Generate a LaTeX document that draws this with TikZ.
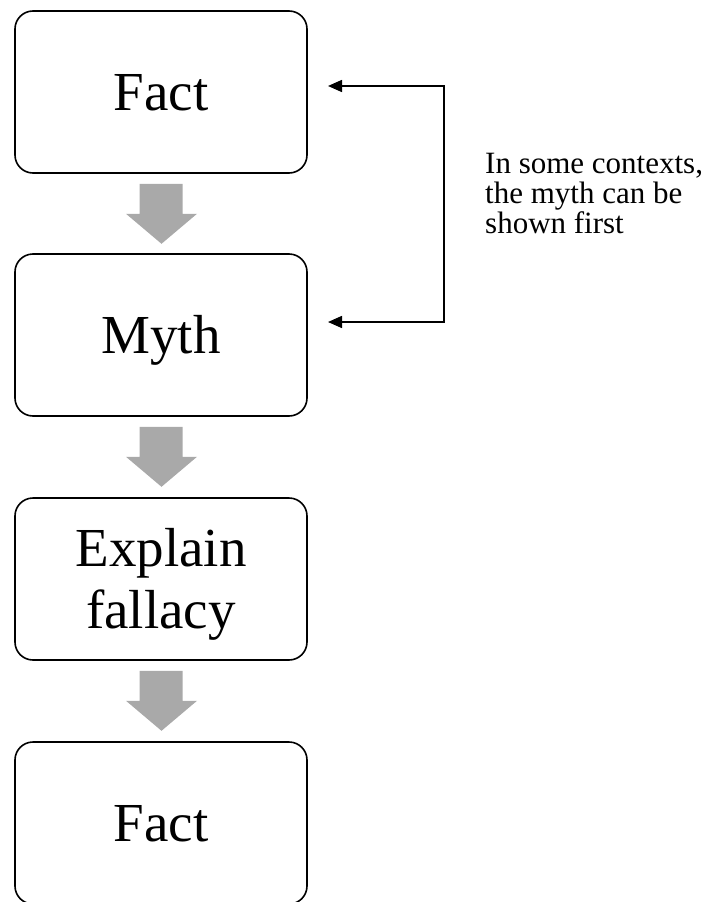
\documentclass[tikz,border=0pt]{standalone}
\usepackage{fontspec}
\setmainfont{Liberation Serif}
\usetikzlibrary{arrows.meta,calc}
\definecolor{arrowgray}{HTML}{A9A9A9}
\newcommand{\bxstrut}{\rule[-0.22em]{0pt}{1.11em}}
\begin{document}
\begin{tikzpicture}[x=1pt,y=-1pt,
  stepbox/.style={draw=black,line width=1.6pt,rounded corners=18pt,
    minimum width=292pt,minimum height=162pt,inner sep=0pt,align=center,
    font=\fontsize{55}{57}\selectfont},
  blockarrow/.style={fill=arrowgray,draw=none},
  linkline/.style={line width=1.6pt,{Triangle[length=14pt,width=12pt]}-{Triangle[length=14pt,width=12pt]}},
  note/.style={inner sep=0pt,anchor=north west,align=left,
    font=\fontsize{31}{30}\selectfont}]
\useasboundingbox (0,0) rectangle (713,902);
\node[stepbox] (b1) at (161,92)  {\bxstrut Fact};
\node[stepbox] (b2) at (161,335) {\bxstrut Myth};
\node[stepbox] (b3) at (161,579) {\bxstrut Explain\\fallacy\bxstrut};
\node[stepbox] (b4) at (161,823) {\bxstrut Fact};
\foreach \a/\b in {b1/b2,b2/b3,b3/b4}{
  \fill[blockarrow] ($(\a.south)+(-21.5,10)$) -- ($(\a.south)+(21.5,10)$)
    -- ($(\a.south)+(21.5,40)$) -- ($(\a.south)+(36,40)$)
    -- ($(\a.south)+(0.5,70)$) -- ($(\a.south)+(-35,40)$)
    -- ($(\a.south)+(-21.5,40)$) -- cycle;
}
\coordinate (t1) at (328,86);
\coordinate (t2) at (328,322);
\coordinate (r) at (444,322);
\draw[linkline] (t1) -| (r) -- (t2);
\node[note] (txt) at (485,151) {\rule{0pt}{22pt}In some contexts,\\the myth can be\\shown first};
\end{tikzpicture}
\end{document}
